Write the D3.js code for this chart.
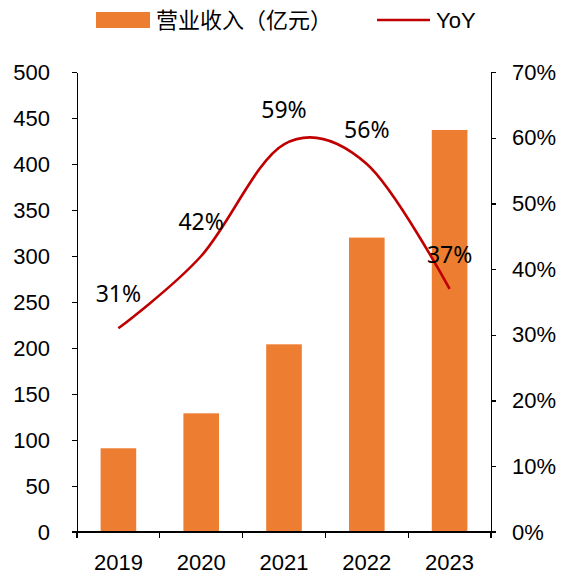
<!DOCTYPE html>
<html>
<head>
<meta charset="utf-8">
<script src="https://cdn.jsdelivr.net/npm/d3@7/dist/d3.min.js"></script>
<style>
  html, body { margin: 0; padding: 0; background: #fff; }
  svg { display: block; }
  .axis text { font-family: "Liberation Sans", Arial, sans-serif; font-size: 22px; fill: #000; }
  .axis path, .axis line { stroke: #000; stroke-width: 1.3px; shape-rendering: crispEdges; }
</style>
</head>
<body>
<svg id="chart" width="563" height="574"></svg>
<script>
// Revenue (亿元) and year-over-year growth
const years = ["2019", "2020", "2021", "2022", "2023"];
const revenue = [91, 129, 204, 320, 437];
const yoy = [31, 42, 59, 56, 37];
const leftTicks = [0, 50, 100, 150, 200, 250, 300, 350, 400, 450, 500];
const rightTicks = [0, 10, 20, 30, 40, 50, 60, 70];

const svg = d3.select("#chart");
const plotL = 77, plotR = 491, plotT = 72, plotB = 532;

const x = d3.scaleBand().domain(years).range([plotL, plotR]).padding(0);
const yL = d3.scaleLinear().domain([0, 500]).range([plotB, plotT]);
const yR = d3.scaleLinear().domain([0, 70]).range([plotB, plotT]);
const barW = x.bandwidth() * 0.43;
const cx = d => x(d) + x.bandwidth() / 2;

// Bars
svg.append("g").selectAll("rect").data(years).join("rect")
  .attr("x", d => cx(d) - barW / 2)
  .attr("y", (d, i) => yL(revenue[i]))
  .attr("width", barW)
  .attr("height", (d, i) => yL(0) - yL(revenue[i]))
  .attr("fill", "#ED7D31");

// Left axis
svg.append("g").attr("class", "axis").attr("transform", `translate(${plotL},0)`)
  .call(d3.axisLeft(yL).tickValues(leftTicks).tickSize(5).tickPadding(22).tickSizeOuter(0));

// Right axis
svg.append("g").attr("class", "axis").attr("transform", `translate(${plotR},0)`)
  .call(d3.axisRight(yR).tickValues(rightTicks).tickSize(5).tickPadding(16).tickSizeOuter(0)
    .tickFormat(d => d + "%"));

// Bottom axis with ticks between categories
const gB = svg.append("g").attr("class", "axis").attr("transform", `translate(0,${plotB})`);
gB.append("line").attr("x1", plotL - 5).attr("x2", plotR + 5).attr("y1", 0).attr("y2", 0);
const bounds = years.map(d => x(d)).concat([plotR]);
gB.selectAll("line.tk").data(bounds).join("line").attr("class", "tk")
  .attr("x1", d => d).attr("x2", d => d).attr("y1", 0).attr("y2", 6);
gB.selectAll("text").data(years).join("text")
  .attr("x", d => cx(d)).attr("y", 38)
  .attr("text-anchor", "middle")
  .text(d => d);

// Smoothed YoY line
const line = d3.line()
  .x((d, i) => cx(years[i]))
  .y(d => yR(d))
  .curve(d3.curveCardinal.tension(0));
svg.append("path").datum(yoy)
  .attr("d", line)
  .attr("fill", "none")
  .attr("stroke", "#C00000")
  .attr("stroke-width", 2.6);

// Value labels above line points
svg.append("g").selectAll("text").data(yoy).join("text")
  .attr("x", (d, i) => cx(years[i]))
  .attr("y", d => yR(d) - 34)
  .attr("dy", "0.35em")
  .attr("text-anchor", "middle")
  .style("font-family", "'Noto Sans', sans-serif")
  .style("font-size", "23px")
  .attr("fill", "#000")
  .text(d => d + "%");

// Legend
const lg = svg.append("g");
lg.append("rect").attr("x", 96).attr("y", 12).attr("width", 54).attr("height", 16).attr("fill", "#ED7D31");
lg.append("text").attr("x", 156).attr("y", 20).attr("dy", "0.35em")
  .style("font-family", "'Noto Sans CJK SC', sans-serif").style("font-size", "22px")
  .attr("fill", "#000").text("营业收入（亿元）");
lg.append("line").attr("x1", 377).attr("x2", 430).attr("y1", 20).attr("y2", 20)
  .attr("stroke", "#C00000").attr("stroke-width", 2.6);
lg.append("text").attr("x", 436).attr("y", 20).attr("dy", "0.35em")
  .style("font-family", "'Liberation Sans', Arial, sans-serif").style("font-size", "22px")
  .attr("fill", "#000").text("YoY");
</script>
</body>
</html>
